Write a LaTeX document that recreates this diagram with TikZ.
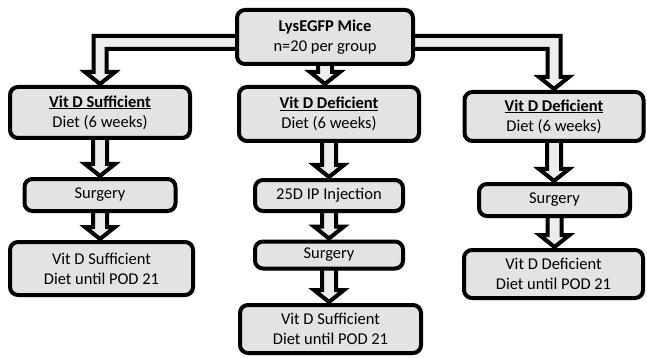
\documentclass[tikz,border=0pt]{standalone}
\usepackage{fontspec}
\setmainfont{Carlito}
\usetikzlibrary{shadows,calc}
\pgfdeclarelayer{bg}
\pgfsetlayers{bg,main}
\newcommand\aS{7pt}
\newcommand\aL{6.5pt}
\newcommand\aW{15pt}
\newcommand\aH{13pt}
% vertical block arrow from node #1 down to node #2
\newcommand\varrow[2]{%
  \path let \p1=(#1.south), \p2=(#2.north) in
    [blockarrow] (\x1-\aS,\y1+6pt) -- (\x1-\aS,\y2+\aH) -- (\x1-\aW,\y2+\aH) -- (\x1,\y2+1pt)
      -- (\x1+\aW,\y2+\aH) -- (\x1+\aS,\y2+\aH) -- (\x1+\aS,\y1+6pt) -- cycle;}
% L-shaped block arrow from node #1 (side #3 = west/east, sign #4 = -1/1) down to node #2
\newcommand\larrow[4]{%
  \path let \p1=($(#1.#3)+(0,-5.5pt)$), \p2=(#2.north) in
    [blockarrow] (\x1-#4*8pt,\y1+\aL) -- (\x2+#4*\aL,\y1+\aL) -- (\x2+#4*\aL,\y2+\aH)
      -- (\x2+#4*\aW,\y2+\aH) -- (\x2,\y2+1pt) -- (\x2-#4*\aW,\y2+\aH) -- (\x2-#4*\aL,\y2+\aH)
      -- (\x2-#4*\aL,\y1-\aL) -- (\x1-#4*8pt,\y1-\aL) -- cycle;}
\begin{document}
\begin{tikzpicture}[x=1pt,y=-1pt,
  box/.style={draw=black, line width=4pt, rounded corners=8pt, fill=black!11,
    align=center, inner sep=0pt, font=\fontsize{16.5}{20}\selectfont,
    drop shadow={shadow xshift=1.5pt, shadow yshift=-2pt, opacity=0.35}},
  blockarrow/.style={draw=black, line width=4pt, line join=miter, fill=black!7}]
\useasboundingbox (0,0) rectangle (647,358);
\node[box, minimum width=176pt, minimum height=54pt] (top) at (325,37)
  {\textbf{LysEGFP Mice}\\n=20 per group};
\node[box, minimum width=180pt, minimum height=51pt] (d1) at (100,112.5)
  {\underline{\textbf{Vit D Sufficient}}\\Diet (6 weeks)};
\node[box, minimum width=180pt, minimum height=54pt] (d2) at (329,114)
  {\underline{\textbf{Vit D Deficient}}\\Diet (6 weeks)};
\node[box, minimum width=179pt, minimum height=49pt] (d3) at (554,116.5)
  {\underline{\textbf{Vit D Deficient}}\\Diet (6 weeks)};
\node[box, minimum width=151pt, minimum height=32pt] (s1) at (100,195) {Surgery};
\node[box, minimum width=148pt, minimum height=31pt] (i2) at (329,195.5) {25D IP Injection};
\node[box, minimum width=148pt, minimum height=27pt] (s2) at (329,255) {Surgery};
\node[box, minimum width=181pt, minimum height=48pt] (f2) at (330.5,329)
  {Vit D Sufficient\\Diet until POD 21};
\node[box, minimum width=151pt, minimum height=32pt] (s3) at (554.5,200) {Surgery};
\node[box, minimum width=183pt, minimum height=53pt] (r1) at (101.5,268.5)
  {Vit D Sufficient\\Diet until POD 21};
\node[box, minimum width=179pt, minimum height=48pt] (r3) at (553.5,274)
  {Vit D Deficient\\Diet until POD 21};
\begin{pgfonlayer}{bg}
  \larrow{top}{d1}{west}{-1}
  \larrow{top}{d3}{east}{1}
  \varrow{top}{d2}
  \varrow{d1}{s1}
  \varrow{s1}{r1}
  \varrow{d2}{i2}
  \varrow{i2}{s2}
  \varrow{s2}{f2}
  \varrow{d3}{s3}
  \varrow{s3}{r3}
\end{pgfonlayer}
\end{tikzpicture}
\end{document}
